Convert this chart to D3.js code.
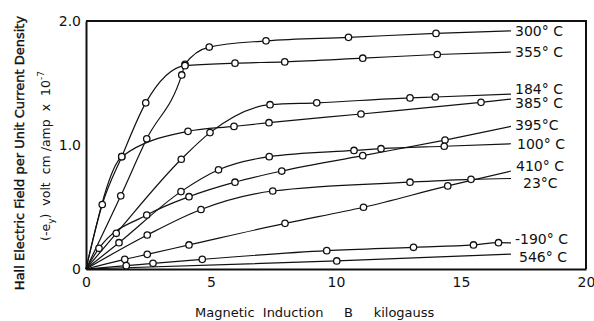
<!DOCTYPE html>
<html>
<head>
<meta charset="utf-8">
<script src="https://cdn.jsdelivr.net/npm/d3@7"></script>
<style>
  body { margin: 0; background: #fff; }
  svg text { font-family: "DejaVu Sans", sans-serif; fill: #111; }
</style>
</head>
<body>
<svg id="chart" width="594" height="321"></svg>
<script>
// curve labels (right side) and measured points [B kilogauss, -e_y x 1e7]
const temps = ["300° C", "355° C", "184° C", "385° C", "395°C", "100° C", "410° C", "23°C", "-190° C", "546° C"];
const t300 = [[0,0],[1.39,0.59],[2.43,1.05],[3.83,1.565],[3.96,1.65],[4.93,1.79],[7.2,1.84],[10.5,1.868],[14.0,1.90],[17,1.92]];
const t355 = [[0,0],[0.65,0.52],[1.43,0.906],[2.39,1.34],[3.96,1.64],[5.96,1.66],[7.95,1.67],[11.07,1.70],[14.05,1.73],[17,1.75]];
const t184 = [[0,0],[1.21,0.288],[3.81,0.885],[4.96,1.10],[7.36,1.325],[9.23,1.34],[12.96,1.38],[13.97,1.387],[17,1.41]];
const t385 = [[0,0],[1.43,0.906],[4.08,1.11],[5.92,1.15],[7.32,1.18],[11.0,1.25],[15.8,1.344],[17,1.37]];
const t395 = [[0,0],[0.52,0.167],[2.43,0.435],[4.12,0.583],[5.96,0.70],[7.83,0.79],[11.07,0.914],[14.36,1.04],[17,1.15]];
const t100 = [[0,0],[1.32,0.212],[3.8,0.624],[5.3,0.80],[7.33,0.906],[10.72,0.956],[11.8,0.97],[14.33,0.99],[17,1.01]];
const t410 = [[0,0],[1.55,0.078],[2.45,0.118],[4.12,0.194],[7.96,0.368],[11.1,0.498],[14.47,0.67],[17,0.79]];
const t23 = [[0,0],[2.45,0.274],[4.6,0.48],[7.47,0.629],[12.96,0.70],[15.4,0.723],[17,0.73]];
const tm190 = [[0,0],[1.61,0.027],[2.68,0.046],[4.65,0.078],[9.63,0.148],[13.1,0.175],[15.5,0.194],[16.5,0.212],[17,0.21]];
const t546 = [[0,0],[10.03,0.065],[17,0.12]];
const series = [t300, t355, t184, t385, t395, t100, t410, t23, tm190, t546];

const xTicks = [0, 5, 10, 15, 20];
const yTicks = [0, 1, 2];

const svg = d3.select("#chart");
const x = d3.scaleLinear().domain([0, 20]).range([86, 586]);
const y = d3.scaleLinear().domain([0, 2]).range([269, 21]);

// axes, no tick marks, just labels
svg.append("g")
  .attr("transform", "translate(0,269)")
  .call(d3.axisBottom(x).tickValues(xTicks).tickSize(0).tickPadding(8))
  .call(g => g.selectAll("text").attr("font-size", 14).attr("font-family", "DejaVu Sans"));
svg.append("g")
  .attr("transform", "translate(86,0)")
  .call(d3.axisLeft(y).tickValues(yTicks).tickSize(0).tickPadding(5)
    .tickFormat(d => d === 0 ? "0" : d.toFixed(1)))
  .call(g => g.selectAll("text").attr("font-size", 14).attr("font-family", "DejaVu Sans"));
svg.selectAll(".domain").attr("stroke", "#111").attr("stroke-width", 2);

// top and right frame
svg.append("path")
  .attr("d", "M" + x(0) + "," + y(2) + "H" + x(20) + "V" + y(0))
  .attr("fill", "none").attr("stroke", "#111").attr("stroke-width", 2);

const line = d3.line()
  .x(d => x(d[0])).y(d => y(d[1]))
  .curve(d3.curveMonotoneX);

svg.append("g").selectAll("path")
  .data(series)
  .join("path")
  .attr("d", line)
  .attr("fill", "none")
  .attr("stroke", "#111")
  .attr("stroke-width", 1.2);

// open circle markers (not at origin or at curve end)
series.forEach(s => {
  svg.append("g").selectAll("circle")
    .data(s.slice(1, -1))
    .join("circle")
    .attr("cx", d => x(d[0]))
    .attr("cy", d => y(d[1]))
    .attr("r", 3.2)
    .attr("fill", "#fff")
    .attr("stroke", "#111")
    .attr("stroke-width", 1.3);
});

// temperature labels at line ends
const labelY = [30.5, 52, 88.5, 103, 125, 144, 166, 182.5, 238.5, 256.5];
const labelX = [515, 515, 515, 515, 515, 517, 516, 523, 515, 519];
svg.append("g").selectAll("text")
  .data(temps)
  .join("text")
  .attr("x", (d, i) => labelX[i])
  .attr("y", (d, i) => labelY[i])
  .attr("dy", "0.36em")
  .attr("font-size", 14)
  .text(d => d);

// axis titles
svg.append("text")
  .attr("x", 195).attr("y", 317)
  .attr("font-size", 13)
  .attr("xml:space", "preserve")
  .text("Magnetic  Induction     B     kilogauss");

svg.append("text")
  .attr("transform", "translate(24,153) rotate(-90)")
  .attr("text-anchor", "middle")
  .attr("font-size", 13)
  .attr("stroke", "#111")
  .attr("stroke-width", 0.4)
  .text("Hall Electric Field per Unit Current Density");

const t2 = svg.append("text")
  .attr("transform", "translate(50,156) rotate(-90)")
  .attr("text-anchor", "middle")
  .attr("font-size", 12.5)
  .attr("xml:space", "preserve");
t2.append("tspan").text("(-e");
t2.append("tspan").attr("font-size", 9).attr("dy", 4).text("y");
t2.append("tspan").attr("dy", -4).text(")  volt  cm /amp  x  10");
t2.append("tspan").attr("font-size", 9).attr("dy", -6).text("-7");
</script>
</body>
</html>
